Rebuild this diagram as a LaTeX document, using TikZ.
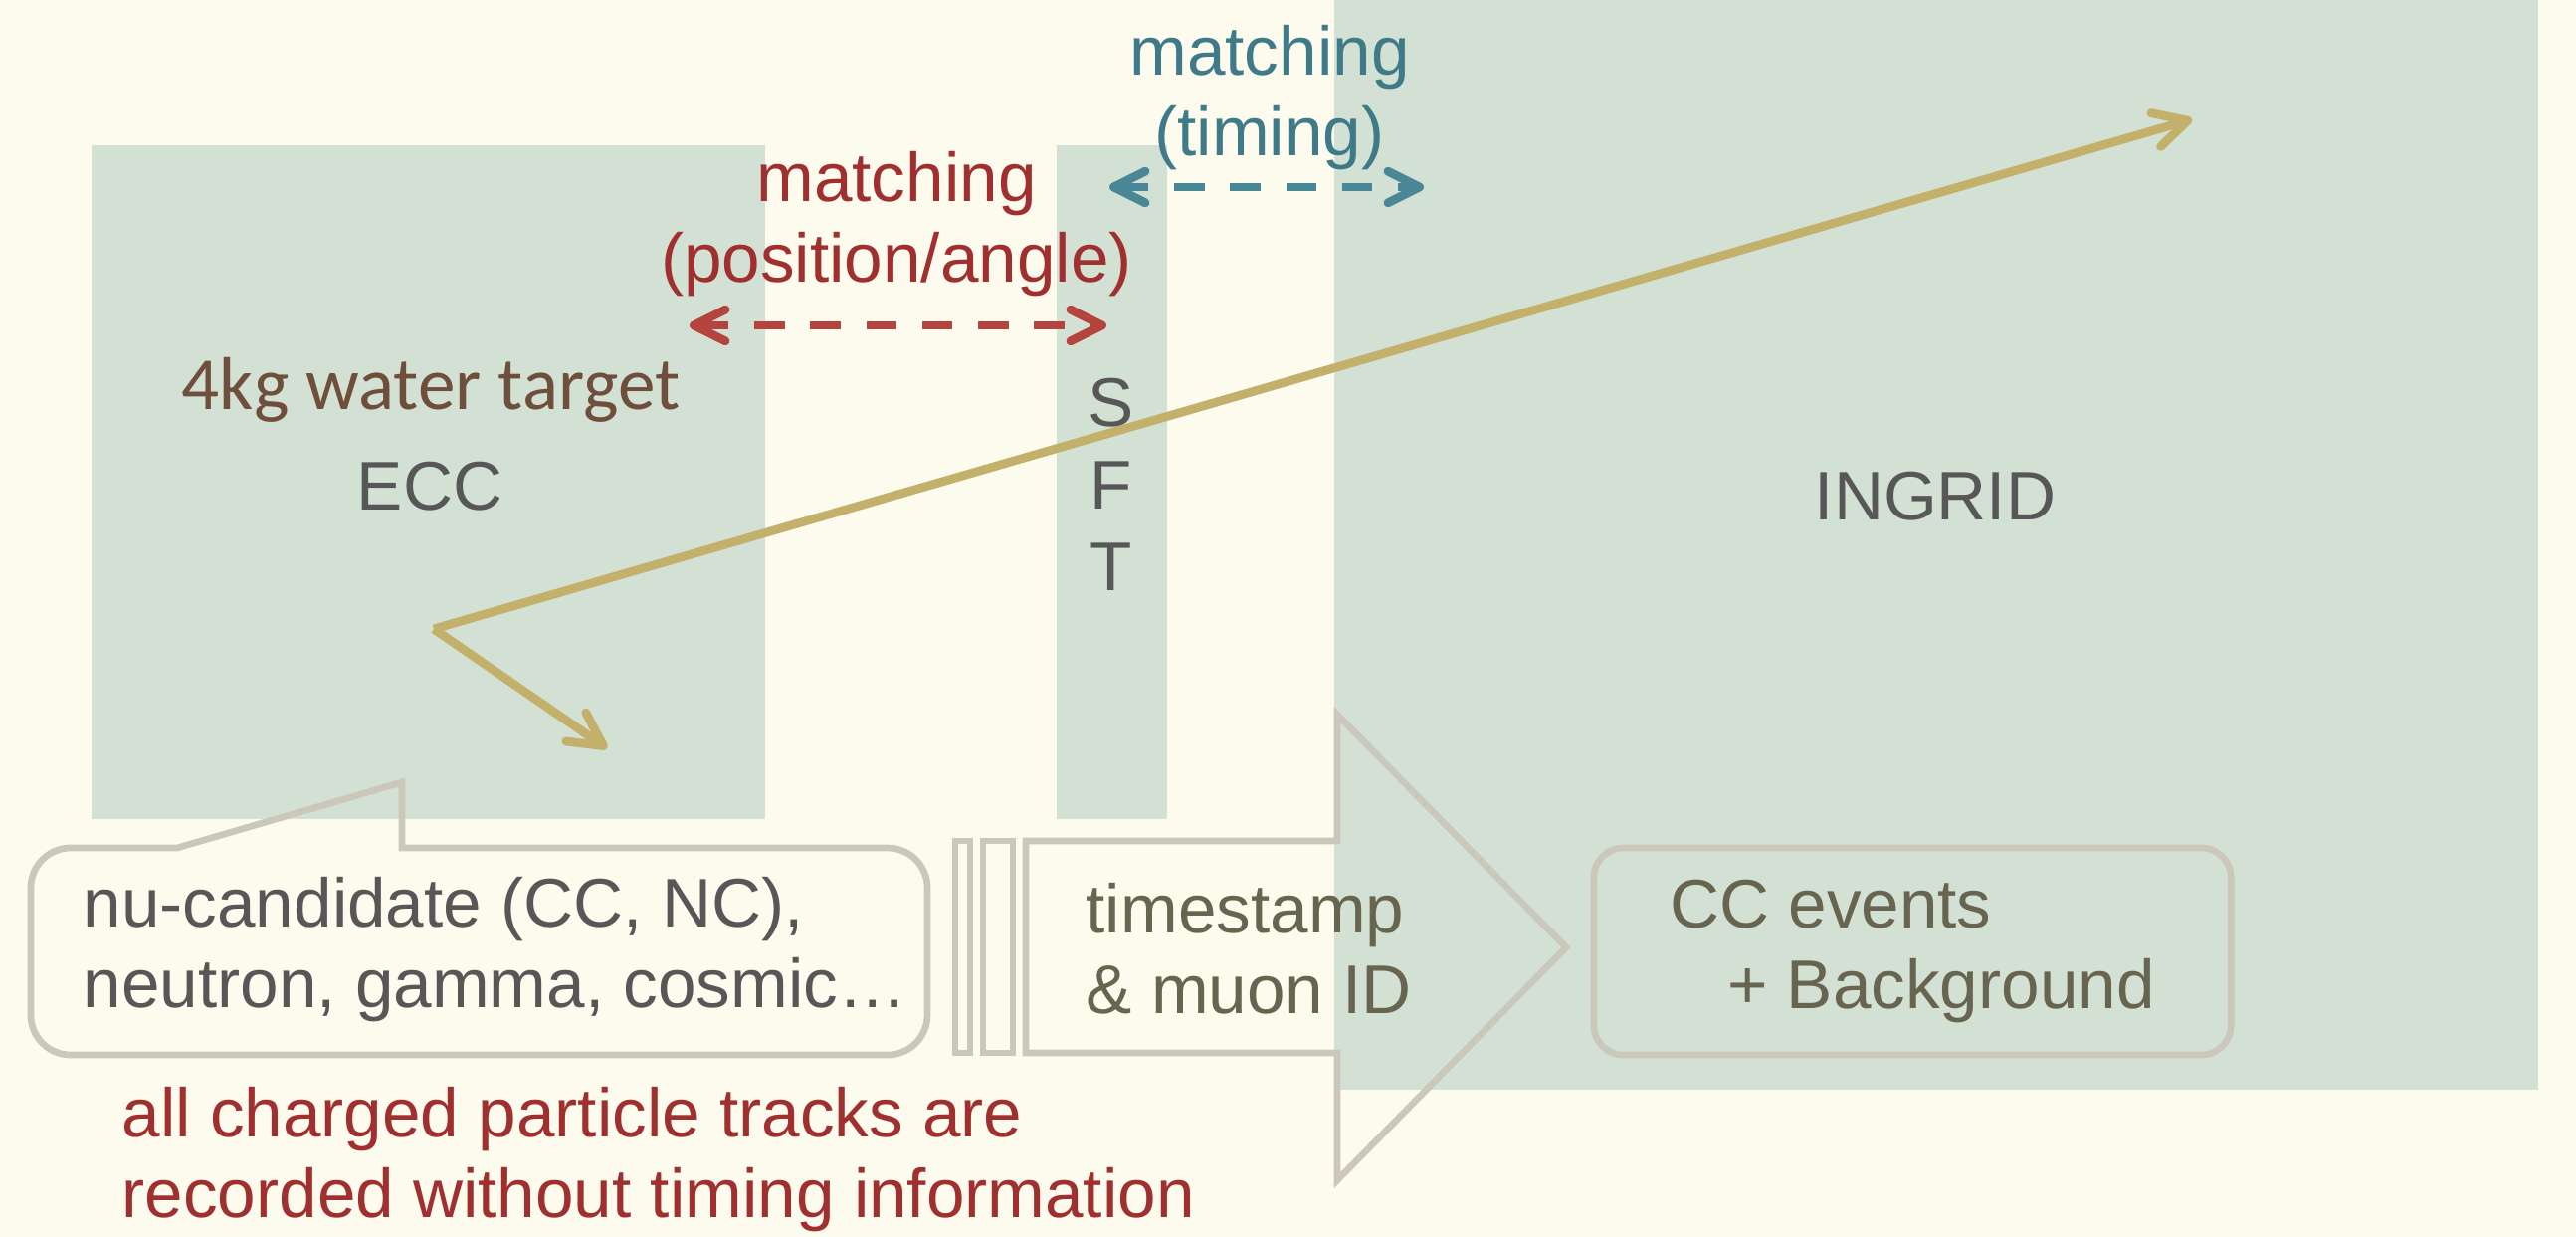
\documentclass[tikz,border=0pt]{standalone}
\usepackage{fontspec}
\setmainfont{Liberation Sans}
\newfontfamily\tgtfont{Carlito}
\usetikzlibrary{arrows.meta}

\definecolor{paper}{HTML}{FDFBEE}
\definecolor{detfill}{HTML}{D2E1D3}
\definecolor{frame}{HTML}{CBC8BB}
\definecolor{matchred}{HTML}{A0302F}
\definecolor{dashred}{HTML}{B5443F}
\definecolor{matchteal}{HTML}{3E7A88}
\definecolor{dashteal}{HTML}{4A8796}
\definecolor{track}{HTML}{C2B06B}
\definecolor{txtgrey}{HTML}{575757}
\definecolor{txtolive}{HTML}{67654F}
\definecolor{txtbrown}{HTML}{6F4F3B}

\begin{document}
\begin{tikzpicture}[
  x=0.01cm, y=-0.01cm,
  det/.style={fill=detfill},
  lbl/.style={inner sep=0, font=\fontsize{19.7}{23}\selectfont},
  outline/.style={draw=frame, line width=1.9pt},
  match/.style={dash pattern=on 8.7pt off 7.3pt, line width=2.5pt,
    {Straight Barb[length=9pt,width=9pt,round]}-{Straight Barb[length=9pt,width=9pt,round]}},
  trk/.style={draw=track, line width=2.5pt, -{Straight Barb[length=9.5pt,width=10pt,round]}}
]
\fill[paper] (0,0) rectangle (2589,1243);

% detectors
\fill[det] (92,146) rectangle (769,823);
\fill[det] (1062,146) rectangle (1173,823);
\fill[det] (1341,0) rectangle (2551,1095);

\node[lbl, text=txtbrown, font=\tgtfont\fontsize{21.4}{25}\selectfont, anchor=base] (water) at (433,411) {4kg water target};
\node[lbl, text=txtgrey, anchor=base] (ecc) at (432,512) {ECC};
\node[lbl, text=txtgrey, align=center, font=\fontsize{19.7}{23.5}\selectfont] (sft) at (1117,487) {S\\F\\T};
\node[lbl, text=txtgrey, anchor=base] (ingrid) at (1945,522) {INGRID};

\node[lbl, text=matchred, align=center] (posmatch) at (901,225.5) {matching\\(position/angle)};
\node[lbl, text=matchteal, align=center] (timematch) at (1276,98.5) {matching\\(timing)};

\coordinate (ecctip) at (693,327);
\coordinate (sfttip) at (1112,327);
\coordinate (sftend) at (1115,188);
\coordinate (ingtip) at (1431,188);
\draw[match, draw=dashred] (ecctip) -- (sfttip);
\draw[match, draw=dashteal] (sftend) -- (ingtip);

% callout
\draw[outline] (178,852) -- (404,786) -- (404,852) -- (892,852)
  arc[start angle=90, end angle=0, radius=0.4cm] -- (932,1020)
  arc[start angle=0, end angle=-90, radius=0.4cm] -- (71,1060)
  arc[start angle=270, end angle=180, radius=0.4cm] -- (31,892)
  arc[start angle=180, end angle=90, radius=0.4cm] -- cycle;
\node[lbl, text=txtgrey, align=left, anchor=west] (cand) at (83,954.5) {nu-candidate (CC, NC),\\neutron, gamma, cosmic…};
\node[lbl, text=matchred, align=left, anchor=west] (notime) at (122,1165.5) {all charged particle tracks are\\recorded without timing information};

% block arrow
\draw[outline] (960,845) rectangle (975,1058);
\draw[outline] (988,845) rectangle (1018,1058);
\draw[outline] (1031,845) -- (1344,845) -- (1344,718) -- (1574,952) -- (1344,1186) -- (1344,1058) -- (1031,1058) -- cycle;
\node[lbl, text=txtolive, align=left, anchor=west] (tstamp) at (1091,953.5) {timestamp\\\& muon ID};

\node[lbl, outline, rounded corners=0.3cm, text=txtolive, align=left, minimum width=6.4cm, minimum height=2.08cm] (ccev) at (1922,956) {CC events\\\hspace*{0.58cm}+ Background};

% tracks
\coordinate (vtx) at (436,632);
\coordinate (trkout) at (2203,120);
\coordinate (trkin) at (610,752);
\draw[trk] (vtx) -- (trkout);
\draw[trk] (vtx) -- (trkin);
\end{tikzpicture}
\end{document}
